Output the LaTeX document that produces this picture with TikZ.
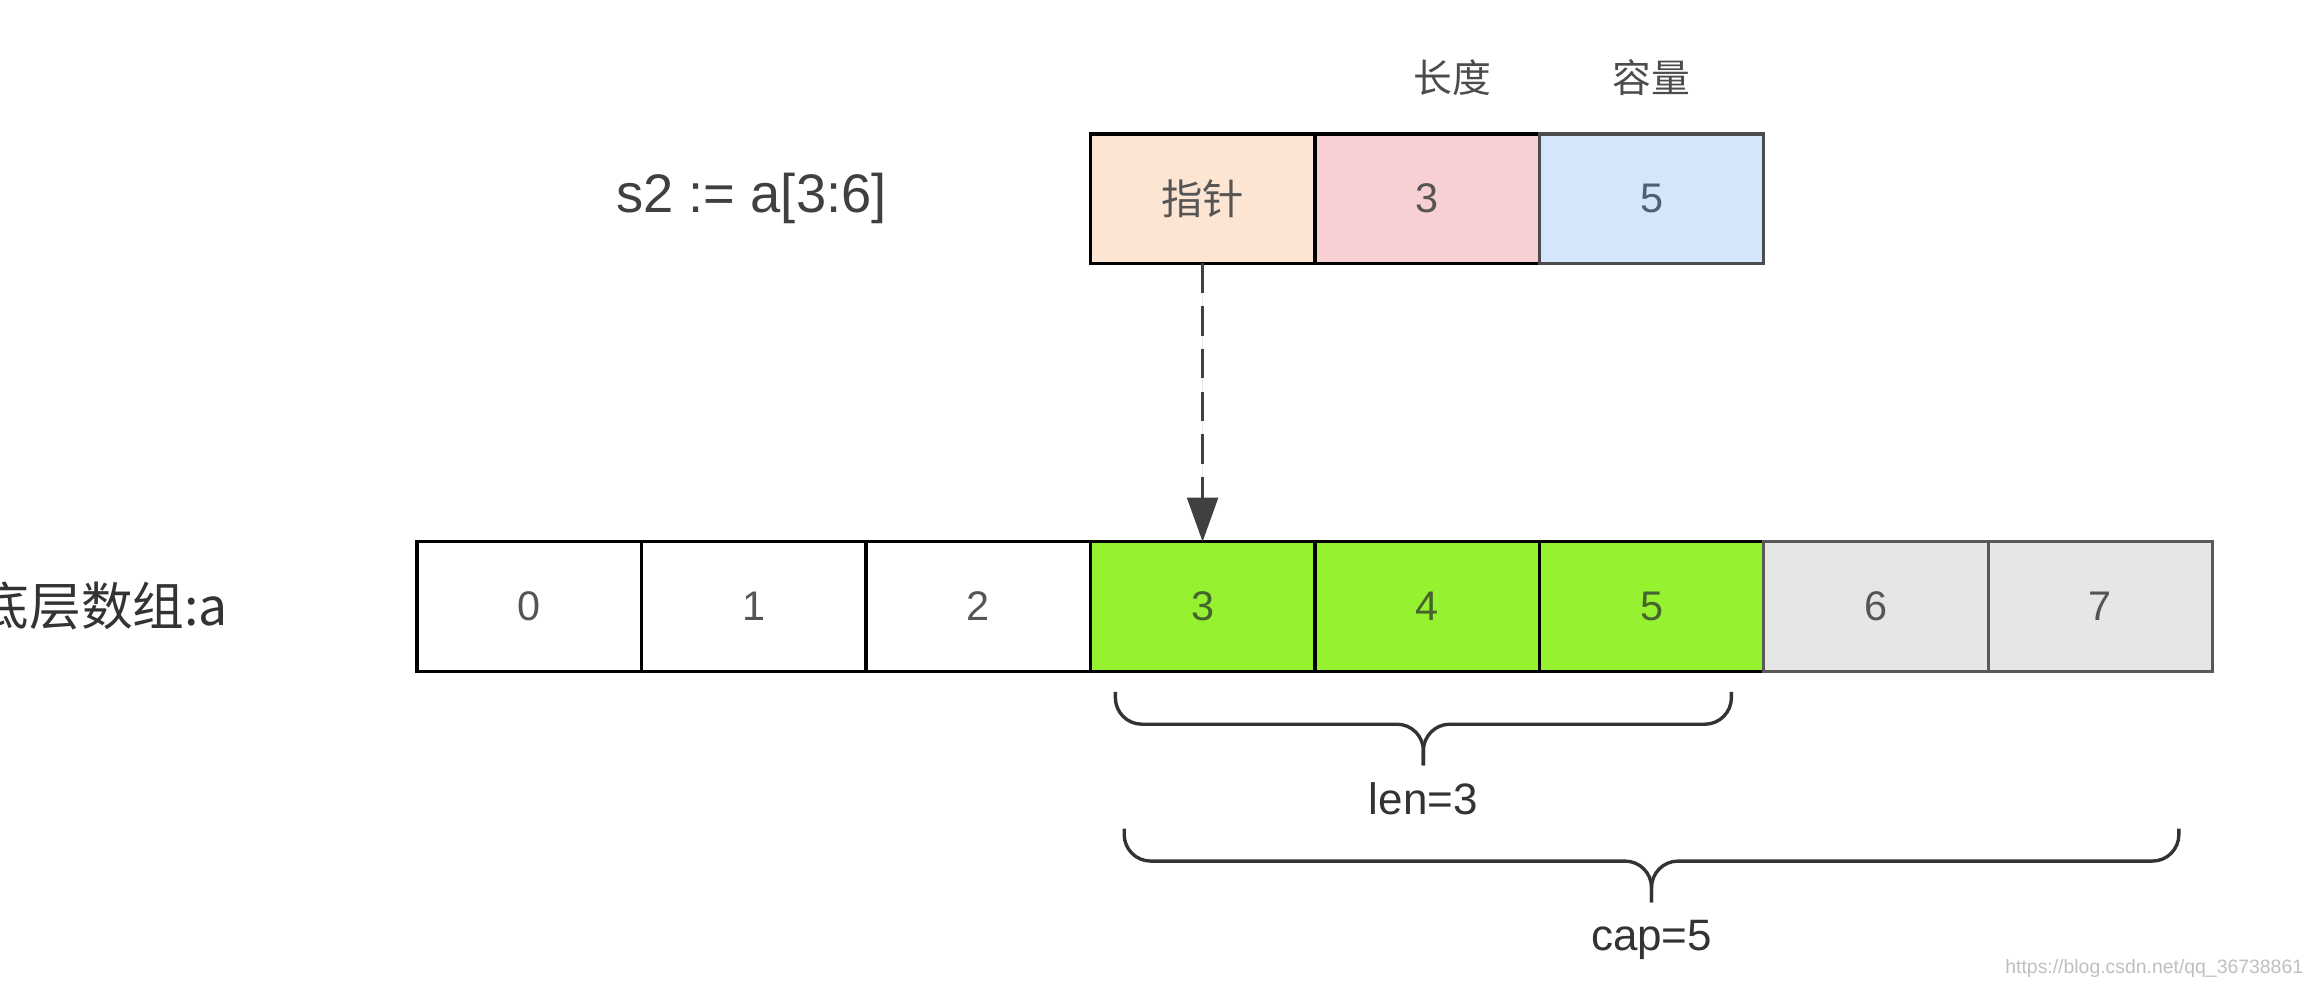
\documentclass[tikz,border=0pt]{standalone}
\usepackage{fontspec}
\setmainfont{Liberation Sans}
\newfontfamily\cjk{Noto Sans CJK SC}
\usepackage{xcolor}
\usepackage{tikz}
\usetikzlibrary{arrows.meta,positioning,calc}

\definecolor{ptrfill}{RGB}{252,230,211}
\definecolor{lenfill}{RGB}{248,207,210}
\definecolor{capfill}{RGB}{214,230,250}
\definecolor{usedfill}{RGB}{150,242,48}
\definecolor{sparefill}{RGB}{230,230,230}
\definecolor{txtgray}{RGB}{85,85,85}
\definecolor{usedtxt}{RGB}{70,100,45}
\definecolor{captxt}{RGB}{80,95,115}

\tikzset{
	cell/.style={draw=black, line width=1.3pt, minimum width=3.05cm, minimum height=1.76cm,
		inner sep=0pt, outer sep=0pt, text=txtgray, font=\fontsize{16}{19}\selectfont},
	used/.style={cell, fill=usedfill, text=usedtxt},
	spare/.style={cell, fill=sparefill, draw=black!65},
	lbl/.style={inner sep=0pt, text=black!75, font=\fontsize{21}{25}\selectfont},
	tag/.style={inner sep=0pt, text=black!70, font=\cjk\fontsize{15}{18}\selectfont},
	bracepath/.style={line width=1.3pt, draw=black!80, rounded corners=0.36cm},
	bracelbl/.style={inner sep=0pt, text=black!80, font=\fontsize{17}{20}\selectfont},
	wmark/.style={inner sep=0pt, text=black!25, font=\fontsize{7.5}{9}\selectfont},
}

\begin{document}
\begin{tikzpicture}[>={Triangle[width=0.42cm,length=0.6cm]}, node distance=3.05cm]
			\useasboundingbox (0,0) rectangle (31.36,-13.4);

			% underlying array
			\node[cell] (c0) at (7.19,-8.24) {0};
			\node[cell] (c1) [right of=c0] {1};
			\node[cell] (c2) [right of=c1] {2};
			\node[used] (c3) [right of=c2] {3};
			\node[used] (c4) [right of=c3] {4};
			\node[used] (c5) [right of=c4] {5};
			\node[spare] (c6) [right of=c5] {6};
			\node[spare] (c7) [right of=c6] {7};
			\node[lbl, font=\cjk\fontsize{20}{24}\selectfont, text=black!80] (arrname) [left=2.56cm of c0] {底层数组:a};

			% slice header
			\node[cell, fill=ptrfill, font=\cjk\fontsize{16}{19}\selectfont] (ptr) [above=3.78cm of c3] {指针};
			\node[cell, fill=lenfill] (len) [right of=ptr] {3};
			\node[cell, fill=capfill, draw=black!70, text=captxt] (cap) [right of=len] {5};
			\node[tag] (lenname) [above=0.52cm of len, xshift=0.34cm] {长度};
			\node[tag] (capname) [above=0.52cm of cap] {容量};
			\node[lbl] (expr) [left=2.76cm of ptr] {s2 := a[3:6]};

			\draw[->, dash pattern=on 0.4cm off 0.18cm, line width=1.1pt, draw=black!75, fill=black!75] (ptr.south) -- (c3.north);

			% len and cap braces
			\coordinate (lenL) at ([shift={(0.34,-0.28)}]c3.south west);
			\coordinate (lenR) at ([shift={(-0.44,-0.28)}]c5.south east);
			\coordinate (lenTip) at ($(lenL)!0.5!(lenR)+(0,-1)$);
			\coordinate (capL) at ([shift={(0.46,-2.14)}]c3.south west);
			\coordinate (capR) at ([shift={(-0.46,-2.14)}]c7.south east);
			\coordinate (capTip) at ($(capL)!0.5!(capR)+(0,-1)$);
			\draw[bracepath] (lenL) -- ++(0,-0.44) -| (lenTip);
			\draw[bracepath] (lenR) -- ++(0,-0.44) -| (lenTip);
			\draw[bracepath] (capL) -- ++(0,-0.44) -| (capTip);
			\draw[bracepath] (capR) -- ++(0,-0.44) -| (capTip);
			\node[bracelbl] (lenval) [below=0.23cm of lenTip] {len=3};
			\node[bracelbl] (capval) [below=0.23cm of capTip] {cap=5};

			\node[wmark, anchor=east] (site) at (31.3,-13.16) {https://blog.csdn.net/qq\_36738861};
		\end{tikzpicture}
\end{document}
